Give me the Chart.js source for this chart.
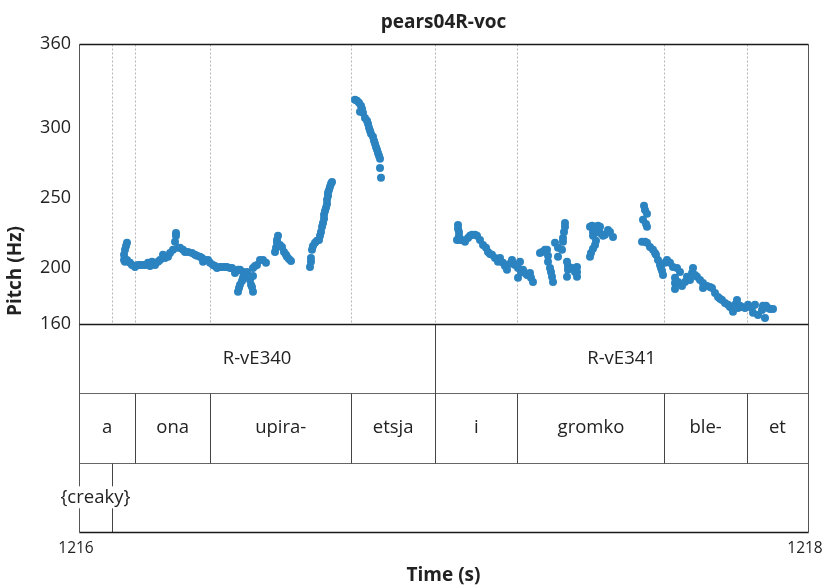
<!DOCTYPE html>
<html>
<head>
<meta charset="utf-8">
<script src="https://cdn.jsdelivr.net/npm/chart.js@4.4.1/dist/chart.umd.min.js"></script>
<style>
html, body { margin: 0; padding: 0; background: #fff; }
</style>
</head>
<body>
<canvas id="graph" width="825" height="587"></canvas>
<script>
'use strict';

// ピッチの点 (秒, Hz)
const times = [
  1216.1235, 1216.1235, 1216.1262, 1216.1290, 1216.1317, 1216.1262, 1216.1317, 1216.1399, 1216.1454, 1216.1536,
  1216.1619, 1216.1674, 1216.1756, 1216.1811, 1216.1893, 1216.1948, 1216.2003, 1216.2085, 1216.2167, 1216.2222,
  1216.2305, 1216.2359, 1216.2442, 1216.2497, 1216.2579, 1216.2634, 1216.2661, 1216.2661, 1216.2716, 1216.2771,
  1216.2853, 1216.2908, 1216.2990, 1216.3100, 1216.3182, 1216.3237, 1216.3320, 1216.3374, 1216.3402, 1216.3457,
  1216.3539, 1216.3594, 1216.3676, 1216.3731, 1216.3786, 1216.3868, 1216.3923, 1216.4005, 1216.4060, 1216.4143,
  1216.4198, 1216.4280, 1216.4362, 1216.4417, 1216.4499, 1216.4554, 1216.4362, 1216.4390, 1216.4417, 1216.4472,
  1216.4499, 1216.4554, 1216.4609, 1216.4691, 1216.4719, 1216.4746, 1216.4774, 1216.4774, 1216.4774, 1216.4829,
  1216.4883, 1216.4966, 1216.5048, 1216.5130,
  1216.5460, 1216.5432, 1216.5432, 1216.5377, 1216.5405, 1216.5514, 1216.5569, 1216.5624, 1216.5679, 1216.5706,
  1216.5761, 1216.5816,
  1216.6337, 1216.6364, 1216.6364, 1216.6392, 1216.6419, 1216.6475, 1216.6529, 1216.6584, 1216.6612, 1216.6639,
  1216.6667, 1216.6694, 1216.6722, 1216.6722, 1216.6749, 1216.6776, 1216.6804, 1216.6804, 1216.6831, 1216.6831,
  1216.6859, 1216.6886, 1216.6914, 1216.6941,
  1216.7572, 1216.7627, 1216.7682, 1216.7736, 1216.7764, 1216.7709, 1216.7791, 1216.7846, 1216.7901, 1216.7929,
  1216.7956, 1216.7984, 1216.8011, 1216.8066, 1216.8093, 1216.8121, 1216.8148, 1216.8176, 1216.8203, 1216.8230,
  1216.8258, 1216.8258, 1216.8285,
  1217.0398, 1217.0398, 1217.0425, 1217.0425, 1217.0370, 1217.0453, 1217.0508, 1217.0590, 1217.0672, 1217.0727,
  1217.0782, 1217.0864, 1217.0919, 1217.1001, 1217.1084, 1217.1166, 1217.1221, 1217.1276, 1217.1331, 1217.1413,
  1217.1495, 1217.1550, 1217.1632, 1217.1687, 1217.1742, 1217.1825, 1217.1879, 1217.1962, 1217.2044, 1217.2099,
  1217.2044, 1217.2126, 1217.2181, 1217.2236, 1217.2291, 1217.2373, 1217.2400, 1217.2455,
  1217.2647, 1217.2702, 1217.2785, 1217.2840, 1217.2867, 1217.2867, 1217.2922, 1217.2949, 1217.2977, 1217.3004,
  1217.3059, 1217.3141, 1217.3251, 1217.3141, 1217.3278, 1217.3278, 1217.3306, 1217.3333, 1217.3333, 1217.3388,
  1217.3415, 1217.3415, 1217.3388, 1217.3470, 1217.3525, 1217.3608, 1217.3663, 1217.3663, 1217.3663,
  1217.4019, 1217.4074, 1217.4157, 1217.4239, 1217.4294, 1217.4102, 1217.4102, 1217.4211, 1217.4294, 1217.4376,
  1217.4431, 1217.4513, 1217.4568, 1217.4651, 1217.4184, 1217.4157, 1217.4102, 1217.4046, 1217.4019,
  1217.5501, 1217.5528, 1217.5583, 1217.5473, 1217.5556, 1217.5583, 1217.5446, 1217.5528, 1217.5583, 1217.5665,
  1217.5747, 1217.5802, 1217.5830, 1217.5885, 1217.5940, 1217.5967, 1217.5994, 1217.6022, 1217.6077, 1217.6132,
  1217.6214, 1217.6296, 1217.6406, 1217.6488, 1217.6351, 1217.6351, 1217.6351, 1217.6434, 1217.6543, 1217.6626,
  1217.6681, 1217.6763, 1217.6818, 1217.6845, 1217.6900, 1217.6955, 1217.7037, 1217.7119, 1217.7119, 1217.7229,
  1217.7311, 1217.7366, 1217.7448, 1217.7531, 1217.7586, 1217.7641, 1217.7723, 1217.7805, 1217.7860, 1217.7915,
  1217.7942, 1217.7997, 1217.8052, 1217.8080, 1217.8135, 1217.8189, 1217.8272, 1217.8354, 1217.8409, 1217.8464,
  1217.8546, 1217.8491, 1217.8628, 1217.8738, 1217.8820, 1217.8765, 1217.8848, 1217.8903, 1217.8957, 1217.9040
];
const pitches = [
  205.7, 209.3, 212.9, 215.7, 217.9, 204.3, 205.7, 203.6, 202.1, 200.7,
  202.1, 202.1, 202.1, 202.1, 203.6, 201.4, 204.3, 202.1, 204.3, 205.7,
  209.3, 207.1, 207.9, 210.7, 212.9, 218.6, 222.9, 225.0, 214.3, 214.3,
  212.9, 211.4, 211.4, 210.7, 209.3, 208.6, 207.9, 207.1, 204.3, 205.7,
  205.7, 203.6, 202.1, 201.4, 200.0, 200.7, 200.7, 200.7, 200.7, 200.0,
  200.0, 196.4, 198.6, 198.6, 197.1, 195.7, 182.9, 185.7, 187.9, 190.7,
  192.9, 195.0, 197.1, 191.4, 187.9, 186.4, 182.9, 194.3, 200.0, 201.4,
  202.1, 205.7, 205.7, 203.6,
  222.9, 220.0, 217.9, 211.4, 214.3, 216.4, 215.0, 211.4, 209.3, 207.9,
  206.4, 205.0,
  200.7, 204.3, 207.1, 212.9, 215.7, 217.9, 219.3, 220.0, 222.9, 225.7,
  229.3, 232.1, 235.0, 237.9, 240.7, 242.9, 245.7, 248.6, 251.4, 253.6,
  255.7, 257.9, 260.0, 261.4,
  320.0, 319.3, 317.9, 315.7, 313.6, 311.4, 310.7, 307.1, 305.0, 302.9,
  300.0, 297.9, 295.7, 293.6, 290.7, 288.6, 286.4, 284.3, 282.1, 280.0,
  277.9, 271.4, 264.3,
  230.7, 227.9, 225.7, 222.9, 220.0, 220.0, 220.0, 218.6, 221.4, 222.9,
  223.6, 223.6, 222.9, 220.0, 216.4, 214.3, 211.4, 210.0, 209.3, 207.1,
  204.3, 207.1, 203.6, 201.4, 198.6, 202.9, 205.7, 202.1, 200.0, 204.3,
  192.9, 197.1, 198.6, 196.4, 195.0, 196.4, 192.9, 190.0,
  210.7, 211.4, 212.9, 212.9, 208.6, 204.3, 200.0, 197.1, 193.6, 190.0,
  217.9, 214.3, 212.9, 207.9, 218.6, 221.4, 225.7, 229.3, 232.1, 204.3,
  201.4, 198.6, 193.6, 200.0, 200.0, 197.1, 200.7, 197.1, 193.6,
  229.3, 230.0, 229.3, 230.0, 229.3, 225.7, 222.9, 225.7, 225.0, 222.9,
  223.6, 227.1, 225.7, 222.1, 219.3, 216.4, 213.6, 210.7, 207.9,
  244.3, 241.4, 238.6, 234.3, 231.4, 229.3, 218.6, 218.6, 217.9, 215.0,
  212.9, 210.7, 209.3, 205.7, 202.1, 200.0, 197.9, 195.0, 203.6, 205.7,
  203.6, 200.7, 200.0, 197.1, 192.9, 189.3, 185.0, 190.0, 187.1, 190.0,
  193.6, 191.4, 196.4, 200.0, 195.0, 193.6, 191.4, 189.3, 185.7, 187.1,
  186.4, 185.7, 182.1, 179.3, 177.9, 177.1, 175.0, 173.6, 172.1, 171.4,
  168.6, 173.6, 177.1, 171.4, 172.9, 172.1, 171.4, 173.6, 172.1, 172.1,
  173.6, 167.9, 166.4, 170.0, 164.3, 172.9, 172.9, 171.4, 170.7, 170.7
];

// 軸の目盛り
const pitchTicks = [160, 200, 250, 300, 360];
const timeTicks = [1216, 1218];

// アノテーションの段
const phraseLabels = ['R-vE340', 'R-vE341'];
const phraseBounds = [1216, 1216.977, 1218];
const wordLabels = ['a', 'ona', 'upira-', 'etsja', 'i', 'gromko', 'ble-', 'et'];
const wordBounds = [1216, 1216.154, 1216.360, 1216.747, 1216.977, 1217.203, 1217.606, 1217.832, 1218];
const noteLabels = ['{creaky}'];
const noteBounds = [1216, 1216.09];

const FONT = "'Open Sans', sans-serif";
const DOT = 'rgb(43,131,192)';

// 段と枠線を描く
const tierPlugin = {
  id: 'tiers',
  beforeDatasetsDraw(chart) {
    const ctx = chart.ctx;
    const xs = chart.scales.x, ys = chart.scales.y, ts = chart.scales.tier;
    const px = v => Math.round(xs.getPixelForValue(v)) + 0.5;
    const left = px(xs.min), right = px(xs.max);
    const top = Math.round(ys.top) + 0.5;
    const mid = Math.round(ys.bottom) + 0.5;

    ctx.save();
    // 点線 (単語の境界)
    ctx.strokeStyle = '#b4b4b4';
    ctx.lineWidth = 1;
    ctx.setLineDash([2, 2]);
    const dotted = wordBounds.slice(1, -1).concat(noteBounds.slice(1));
    for (const b of dotted) {
      ctx.beginPath();
      ctx.moveTo(px(b), top);
      ctx.lineTo(px(b), mid);
      ctx.stroke();
    }
    ctx.setLineDash([]);

    const rows = [
      [phraseLabels, phraseBounds],
      [wordLabels, wordBounds],
      [noteLabels, noteBounds]
    ];
    const rowY = i => Math.round(ts.getPixelForValue(i)) + 0.5;

    // 横線
    ctx.strokeStyle = '#666';
    ctx.lineWidth = 1;
    for (let i = 1; i < 3; i++) {
      ctx.beginPath();
      ctx.moveTo(left, rowY(i));
      ctx.lineTo(right, rowY(i));
      ctx.stroke();
    }
    // 縦線
    ctx.strokeStyle = '#444';
    rows.forEach(([labels, bounds], r) => {
      for (let k = 1; k < bounds.length; k++) {
        if (bounds[k] >= xs.max) continue;
        ctx.beginPath();
        ctx.moveTo(px(bounds[k]), rowY(r));
        ctx.lineTo(px(bounds[k]), rowY(r + 1));
        ctx.stroke();
      }
    });

    // 外枠
    ctx.strokeStyle = '#555';
    ctx.beginPath();
    ctx.moveTo(left, top); ctx.lineTo(left, rowY(3));
    ctx.moveTo(right, top); ctx.lineTo(right, rowY(3));
    ctx.stroke();
    ctx.strokeStyle = '#1a1a1a';
    ctx.lineWidth = 1.5;
    for (const yy of [top, mid, rowY(3)]) {
      ctx.beginPath();
      ctx.moveTo(left, yy);
      ctx.lineTo(right, yy);
      ctx.stroke();
    }

    // ラベル
    ctx.font = '18.5px ' + FONT;
    ctx.fillStyle = '#222';
    ctx.textAlign = 'center';
    ctx.textBaseline = 'middle';
    rows.forEach(([labels, bounds], r) => {
      const cy = (ts.getPixelForValue(r) + ts.getPixelForValue(r + 1)) / 2;
      labels.forEach((lab, k) => {
        const cx = (xs.getPixelForValue(bounds[k]) + xs.getPixelForValue(bounds[k + 1])) / 2;
        if (r === 2) {
          const w = ctx.measureText(lab).width;
          ctx.fillStyle = '#fff';
          ctx.fillRect(cx - w / 2 - 1, cy - 11, w + 2, 22);
          ctx.fillStyle = '#222';
        }
        ctx.fillText(lab, cx, cy);
      });
    });

    // y軸タイトル
    ctx.font = 'bold 19px ' + FONT;
    ctx.translate(16, 271);
    ctx.rotate(-Math.PI / 2);
    ctx.fillText('Pitch (Hz)', 0, 0);
    ctx.restore();
  }
};

const points = times.map((t, i) => ({ x: t, y: pitches[i] }));

new Chart(document.getElementById('graph'), {
  type: 'scatter',
  data: {
    datasets: [{
      data: points,
      yAxisID: 'y',
      backgroundColor: DOT,
      borderWidth: 0,
      pointRadius: 4,
      pointHoverRadius: 4
    }]
  },
  options: {
    responsive: false,
    animation: false,
    layout: { padding: 0 },
    plugins: {
      legend: { display: false },
      tooltip: { enabled: false },
      title: {
        display: true,
        text: 'pears04R-voc',
        fullSize: false,
        color: '#222',
        font: { family: FONT, size: 19, weight: 'bold' },
        padding: { top: 11, bottom: 10 }
      }
    },
    scales: {
      x: {
        type: 'linear',
        min: 1216,
        max: 1218,
        afterBuildTicks: s => { s.ticks = timeTicks.map(v => ({ value: v })); },
        grid: { display: false, drawTicks: false },
        border: { display: false },
        ticks: {
          color: '#222',
          font: { family: FONT, size: 15.5 },
          padding: 7,
          labelOffset: -3,
          maxRotation: 0,
          autoSkip: false,
          callback: v => String(v)
        },
        title: {
          display: true,
          text: 'Time (s)',
          color: '#222',
          font: { family: FONT, size: 19, weight: 'bold' },
          padding: 0
        },
        afterFit: s => {
          s.height = 55;
          s.paddingLeft = 0;
          s.paddingRight = 17;
        }
      },
      y: {
        type: 'linear',
        position: 'left',
        min: 160,
        max: 360,
        stack: 'v',
        stackWeight: 280,
        weight: 2,
        afterBuildTicks: s => { s.ticks = pitchTicks.map(v => ({ value: v })); },
        grid: { display: false, drawTicks: false },
        border: { display: false },
        ticks: {
          color: '#222',
          font: { family: FONT, size: 18 },
          padding: 8,
          callback: v => String(v)
        },
        afterFit: s => { s.width = 79; }
      },
      tier: {
        type: 'linear',
        position: 'left',
        min: 0,
        max: 3,
        reverse: true,
        stack: 'v',
        stackWeight: 208,
        weight: 1,
        grid: { display: false, drawTicks: false },
        border: { display: false },
        ticks: { display: false },
        afterFit: s => { s.width = 79; }
      }
    }
  },
  plugins: [tierPlugin]
});
</script>
</body>
</html>
